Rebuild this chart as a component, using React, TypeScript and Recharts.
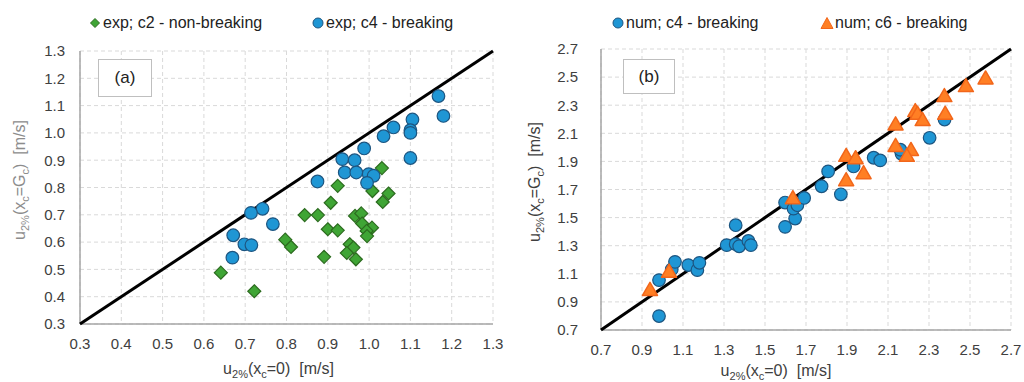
import { CartesianGrid, Label, Scatter, ScatterChart, XAxis, YAxis } from 'recharts'

const FONT = '"Liberation Sans", Arial, sans-serif'
const TEXT = '#404040'

// (a) experiments: [u2%(xc=0), u2%(xc=Gc)]
const expC2: [number, number][] = [
  [1.031, 0.871], [0.924, 0.806], [1.008, 0.787], [1.047, 0.778], [1.033, 0.747],
  [0.907, 0.744], [0.844, 0.699], [0.876, 0.699], [0.966, 0.696], [0.981, 0.705],
  [0.983, 0.668], [1.007, 0.653], [0.994, 0.641], [0.995, 0.622], [0.9, 0.647],
  [0.924, 0.643], [0.797, 0.609], [0.811, 0.582], [0.953, 0.592], [0.962, 0.58],
  [0.946, 0.56], [0.968, 0.537], [0.891, 0.546], [0.641, 0.488], [0.722, 0.42],
]

const expC4: [number, number][] = [
  [1.168, 1.135], [1.18, 1.062], [1.105, 1.049], [1.1, 1.01], [1.1, 1.0],
  [1.059, 1.02], [1.035, 0.988], [1.1, 0.908], [0.988, 0.943], [0.935, 0.904],
  [0.965, 0.9], [0.941, 0.855], [0.969, 0.855], [0.999, 0.849], [1.011, 0.843],
  [0.995, 0.817], [0.875, 0.822], [0.742, 0.722], [0.714, 0.707], [0.767, 0.666],
  [0.671, 0.625], [0.698, 0.592], [0.715, 0.589], [0.669, 0.543],
]

// (b) numerical runs
const numC4: [number, number][] = [
  [0.983, 0.799], [0.983, 1.055], [1.045, 1.131], [1.061, 1.185], [1.126, 1.162],
  [1.17, 1.126], [1.18, 1.178], [1.313, 1.304], [1.357, 1.446], [1.357, 1.311],
  [1.374, 1.296], [1.419, 1.334], [1.431, 1.304], [1.598, 1.434], [1.598, 1.607],
  [1.647, 1.493], [1.639, 1.564], [1.658, 1.588], [1.691, 1.64], [1.776, 1.723],
  [1.808, 1.829], [1.87, 1.666], [1.932, 1.864], [2.03, 1.926], [2.062, 1.907],
  [2.166, 1.954], [2.16, 1.983], [2.303, 2.068], [2.376, 2.198],
]

const numC6: [number, number][] = [
  [0.939, 0.989], [1.032, 1.119], [1.636, 1.642], [1.896, 1.943], [1.942, 1.926],
  [1.896, 1.77], [1.981, 1.82], [2.137, 2.167], [2.137, 2.014], [2.212, 1.985],
  [2.192, 1.943], [2.233, 2.262], [2.244, 2.243], [2.269, 2.198], [2.375, 2.369],
  [2.379, 2.243], [2.48, 2.44], [2.576, 2.494],
]

const TICKS_A = [0.3, 0.4, 0.5, 0.6, 0.7, 0.8, 0.9, 1.0, 1.1, 1.2, 1.3]
const TICKS_B = [0.7, 0.9, 1.1, 1.3, 1.5, 1.7, 1.9, 2.1, 2.3, 2.5, 2.7]

const toPoints = (rows: [number, number][]) => rows.map(([x, y]) => ({ x, y }))

// 1:1 line across the whole axis range
const diagonal = (ticks: number[]) => {
  const lo = ticks[0]
  const hi = ticks[ticks.length - 1]
  return [{ x: lo, y: lo }, { x: hi, y: hi }]
}

const fmt = (v: number) => v.toFixed(1)

const BLUE = { fill: '#1f96d4', stroke: '#1d5580' }
const GREEN = { fill: '#3fa535', stroke: '#2c6b1f' }
const ORANGE = { fill: '#ff7f24', stroke: '#f2661a' }

const Circle = ({ cx, cy }: any) => (
  <circle cx={cx} cy={cy} r={6.3} fill={BLUE.fill} stroke={BLUE.stroke} strokeWidth={1.2} />
)

const Diamond = ({ cx, cy }: any) => (
  <path
    d={`M${cx} ${cy - 6.5}L${cx + 6.5} ${cy}L${cx} ${cy + 6.5}L${cx - 6.5} ${cy}Z`}
    fill={GREEN.fill}
    stroke={GREEN.stroke}
    strokeWidth={1.2}
  />
)

const Triangle = ({ cx, cy }: any) => (
  <path
    d={`M${cx} ${cy - 7}L${cx + 7.5} ${cy + 6}L${cx - 7.5} ${cy + 6}Z`}
    fill={ORANGE.fill}
    stroke={ORANGE.stroke}
    strokeWidth={1.5}
    strokeLinejoin="round"
  />
)

const NoDot = () => <g />

const tickStyle = { fill: TEXT, fontSize: 15, fontFamily: FONT }
const frame = { stroke: '#a6a6a6', strokeWidth: 1.5 }

function XTitle({ viewBox, shift, baseline }: any) {
  const { x, width } = viewBox
  return (
    <text x={x + width / 2 + shift} y={baseline} textAnchor="middle" fontSize={16} fill={TEXT} fontFamily={FONT}>
      u<tspan dy={4} fontSize={11}>2%</tspan>
      <tspan dy={-4}>(x</tspan>
      <tspan dy={4} fontSize={11}>c</tspan>
      <tspan dy={-4}>{'=0)\u00a0 [m/s]'}</tspan>
    </text>
  )
}

function YTitle({ bx, cy, color }: any) {
  return (
    <text
      x={bx}
      y={cy}
      transform={`rotate(-90 ${bx} ${cy})`}
      textAnchor="middle"
      fontSize={16}
      fill={color}
      fontFamily={FONT}
    >
      u<tspan dy={4} fontSize={11}>2%</tspan>
      <tspan dy={-4}>(x</tspan>
      <tspan dy={4} fontSize={11}>c</tspan>
      <tspan dy={-4}>=G</tspan>
      <tspan dy={4} fontSize={11}>c</tspan>
      <tspan dy={-4}>{')\u00a0 [m/s]'}</tspan>
    </text>
  )
}

function Tag({ left, top, width, height, text }: any) {
  return (
    <div
      style={{
        position: 'absolute',
        left,
        top,
        width,
        height,
        boxSizing: 'border-box',
        border: '1.5px solid #bfbfbf',
        background: '#fff',
        display: 'flex',
        alignItems: 'center',
        justifyContent: 'center',
        fontSize: 17,
        color: '#222',
      }}
    >
      {text}
    </div>
  )
}

function LegendEntry({ left, icon, text }: any) {
  return (
    <div style={{ position: 'absolute', left, top: 14, display: 'flex', alignItems: 'center', fontSize: 16, lineHeight: '18px', color: '#222', whiteSpace: 'nowrap' }}>
      <svg width={14} height={14} style={{ marginRight: 1 }}>
        {icon}
      </svg>
      {text}
    </div>
  )
}

function PanelA() {
  return (
    <div style={{ position: 'absolute', left: 0, top: 0, width: 512, height: 382 }}>
      <ScatterChart width={512} height={382} margin={{ top: 51, right: 19, bottom: 28, left: 20 }}>
        <CartesianGrid stroke="#d9d9d9" strokeDasharray="4 3" />
        <XAxis
          type="number"
          dataKey="x"
          domain={[0.3, 1.3]}
          ticks={TICKS_A}
          interval={0}
          tickFormatter={fmt}
          height={30}
          tickSize={0}
          tickMargin={14}
          tick={tickStyle}
          axisLine={frame}
        >
          <Label content={(p: any) => <XTitle {...p} shift={-8} baseline={374} />} />
        </XAxis>
        <YAxis
          type="number"
          dataKey="y"
          domain={[0.3, 1.3]}
          ticks={TICKS_A}
          interval={0}
          tickFormatter={fmt}
          width={60}
          tickSize={0}
          tickMargin={15}
          tick={tickStyle}
          axisLine={frame}
        >
          <Label content={() => <YTitle bx={25} cy={180} color="#8c8c8c" />} />
        </YAxis>
        <XAxis xAxisId="top" orientation="top" type="number" domain={[0.3, 1.3]} height={0} tick={false} tickLine={false} axisLine={frame} />
        <YAxis yAxisId="right" orientation="right" type="number" domain={[0.3, 1.3]} width={0} tick={false} tickLine={false} axisLine={frame} />
        <Scatter data={diagonal(TICKS_A)} line={{ stroke: '#000', strokeWidth: 3 }} shape={NoDot} isAnimationActive={false} />
        <Scatter name="exp; c2 - non-breaking" data={toPoints(expC2)} shape={Diamond} isAnimationActive={false} />
        <Scatter name="exp; c4 - breaking" data={toPoints(expC4)} shape={Circle} isAnimationActive={false} />
      </ScatterChart>
      <Tag left={98} top={59} width={54} height={38} text="(a)" />
      <LegendEntry
        left={88}
        text="exp; c2 - non-breaking"
        icon={<path d="M7 2.5L11.5 7L7 11.5L2.5 7Z" fill={GREEN.fill} stroke={GREEN.stroke} />}
      />
      <LegendEntry
        left={311}
        text="exp; c4 - breaking"
        icon={<circle cx={7} cy={7} r={5} fill={BLUE.fill} stroke={BLUE.stroke} />}
      />
    </div>
  )
}

function PanelB() {
  return (
    <div style={{ position: 'absolute', left: 512, top: 0, width: 512, height: 382 }}>
      <ScatterChart width={512} height={382} margin={{ top: 49, right: 13, bottom: 22, left: 29 }}>
        <CartesianGrid stroke="#d9d9d9" strokeDasharray="4 3" />
        <XAxis
          type="number"
          dataKey="x"
          domain={[0.7, 2.7]}
          ticks={TICKS_B}
          interval={0}
          tickFormatter={fmt}
          height={30}
          tickSize={0}
          tickMargin={14}
          tick={tickStyle}
          axisLine={frame}
        >
          <Label content={(p: any) => <XTitle {...p} shift={-30} baseline={376} />} />
        </XAxis>
        <YAxis
          type="number"
          dataKey="y"
          domain={[0.7, 2.7]}
          ticks={TICKS_B}
          interval={0}
          tickFormatter={fmt}
          width={60}
          tickSize={0}
          tickMargin={23}
          tick={tickStyle}
          axisLine={frame}
        >
          <Label content={() => <YTitle bx={28} cy={182} color={TEXT} />} />
        </YAxis>
        <XAxis xAxisId="top" orientation="top" type="number" domain={[0.7, 2.7]} height={0} tick={false} tickLine={false} axisLine={frame} />
        <YAxis yAxisId="right" orientation="right" type="number" domain={[0.7, 2.7]} width={0} tick={false} tickLine={false} axisLine={frame} />
        <Scatter data={diagonal(TICKS_B)} line={{ stroke: '#000', strokeWidth: 3 }} shape={NoDot} isAnimationActive={false} />
        <Scatter name="num; c4 - breaking" data={toPoints(numC4)} shape={Circle} isAnimationActive={false} />
        <Scatter name="num; c6 - breaking" data={toPoints(numC6)} shape={Triangle} isAnimationActive={false} />
      </ScatterChart>
      <Tag left={111} top={59} width={52} height={35} text="(b)" />
      <LegendEntry
        left={99}
        text="num; c4 - breaking"
        icon={<circle cx={7} cy={7} r={5} fill={BLUE.fill} stroke={BLUE.stroke} />}
      />
      <LegendEntry
        left={308}
        text="num; c6 - breaking"
        icon={<path d="M7 1.5L13 12.5L1 12.5Z" fill={ORANGE.fill} stroke={ORANGE.stroke} strokeLinejoin="round" />}
      />
    </div>
  )
}

export default function App() {
  return (
    <div
      style={{
        position: 'absolute',
        left: 0,
        top: 0,
        width: 1024,
        height: 382,
        background: '#fff',
        fontFamily: FONT,
        overflow: 'hidden',
      }}
    >
      <PanelA />
      <PanelB />
    </div>
  )
}
